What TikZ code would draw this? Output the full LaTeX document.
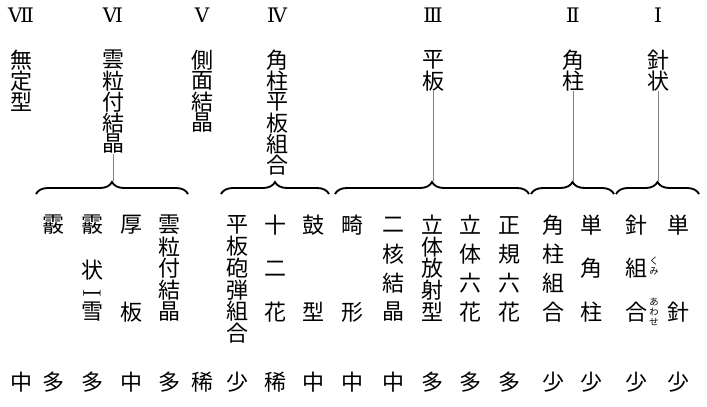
\documentclass[tikz,border=0pt]{standalone}
\usepackage{fontspec}
\setmainfont{Noto Sans CJK JP}
\newfontfamily\lmfont{Latin Modern Roman}
\newfontfamily\romfont{DejaVu Serif}
\usetikzlibrary{decorations.pathreplacing}
\tikzset{
  txt/.style={inner sep=0pt, font=\fontsize{16.5pt}{16.5pt}\selectfont},
  rom/.style={inner sep=0pt, font=\romfont\fontsize{15pt}{15pt}\selectfont},
  ruby/.style={inner sep=0pt, font=\fontsize{7pt}{7pt}\selectfont},
  bracestyle/.style={decorate, decoration={brace, amplitude=9pt}, line width=1.4pt},
  stem/.style={draw=gray, line width=0.5pt}
}
\newcommand\vcol[5]{\foreach \c [count=\i] in {#5}{\node[txt] (#1-\i) at (#2,{#3+(\i-1)*(#4)}) {\c};}}
\begin{document}
\begin{tikzpicture}[x=0.75pt,y=-0.75pt]
\useasboundingbox (0,0) rectangle (707,407);
% Roman numerals
\node[rom] (r7) at (21,15) {Ⅶ};
\node[rom] (r6) at (113,15) {Ⅵ};
\node[rom] (r5) at (202,15) {Ⅴ};
\node[rom] (r4) at (277,15) {Ⅳ};
\node[rom] (r3) at (433,15) {Ⅲ};
\node[rom] (r2) at (573,15) {Ⅱ};
\node[rom] (r1) at (658,15) {Ⅰ};
% group labels
\vcol{l7}{21}{60}{21}{無,定,型}
\vcol{l6}{113}{60}{21}{雲,粒,付,結,晶}
\vcol{l5}{202}{60}{21}{側,面,結,晶}
\vcol{l4}{277}{60}{21}{角,柱,平,板,組,合}
\vcol{l3}{433}{60}{21}{平,板}
\vcol{l2}{573}{60}{21}{角,柱}
\vcol{l1}{658}{60}{21}{針,状}
% braces
\draw[bracestyle] (36,194) coordinate (b6a) -- (188,194) coordinate (b6b);
\draw[bracestyle] (221,194) coordinate (b4a) -- (329,194) coordinate (b4b);
\draw[bracestyle] (335,194) coordinate (b3a) -- (529,194) coordinate (b3b);
\draw[bracestyle] (531,194) coordinate (b2a) -- (614,194) coordinate (b2b);
\draw[bracestyle] (616,194) coordinate (b1a) -- (699,194) coordinate (b1b);
% stems
\coordinate (t6) at (113,181);
\coordinate (t3) at (433,181);
\coordinate (t2) at (573,181);
\coordinate (t1) at (658,181);
\draw[stem] (l6-5.south) -- (t6);
\draw[stem] (l3-2.south) -- (t3);
\draw[stem] (l2-2.south) -- (t2);
\draw[stem] (l1-2.south) -- (t1);
% columns
\vcol{c1}{53}{225}{0}{霰}
\node[txt] (c2-1) at (92,225) {霰};
\node[txt] (c2-2) at (92,270) {状};
\node[inner sep=0pt, font=\lmfont\fontsize{19pt}{19pt}\selectfont] (c2-3) at (92,293) {\rotatebox{90}{I}};
\node[txt] (c2-4) at (92,312) {雪};
\vcol{c3}{131}{225}{87}{厚,板}
\vcol{c4}{169}{225}{21.7}{雲,粒,付,結,晶}
\vcol{c5}{237}{225}{21.6}{平,板,砲,弾,組,合}
\vcol{c6}{275}{225}{43.5}{十,二,花}
\vcol{c7}{313}{225}{87}{鼓,型}
\vcol{c8}{352}{225}{87}{畸,形}
\vcol{c9}{393}{225}{29}{二,核,結,晶}
\vcol{c10}{432}{225}{21.75}{立,体,放,射,型}
\vcol{c11}{470}{225}{29}{立,体,六,花}
\vcol{c12}{509}{225}{29}{正,規,六,花}
\vcol{c13}{553}{225}{29}{角,柱,組,合}
\vcol{c14}{591}{225}{43.5}{単,角,柱}
\vcol{c15}{636}{225}{43.5}{針,組,合}
\vcol{c16}{678}{225}{87}{単,針}
% ruby
\foreach \c [count=\i] in {く,み}{\node[ruby] (rk-\i) at (654,{261.5+(\i-1)*9.5}) {\c};}
\foreach \c [count=\i] in {あ,わ,せ}{\node[ruby] (ra-\i) at (654,{302+(\i-1)*10}) {\c};}
% frequency row
\foreach \x/\c [count=\i] in {21/中,53/多,92/多,131/中,169/多,202/稀,237/少,275/稀,313/中,352/中,393/中,432/多,470/多,509/多,553/少,591/少,636/少,678/少}
  {\node[txt] (f-\i) at (\x,382) {\c};}
\end{tikzpicture}
\end{document}
